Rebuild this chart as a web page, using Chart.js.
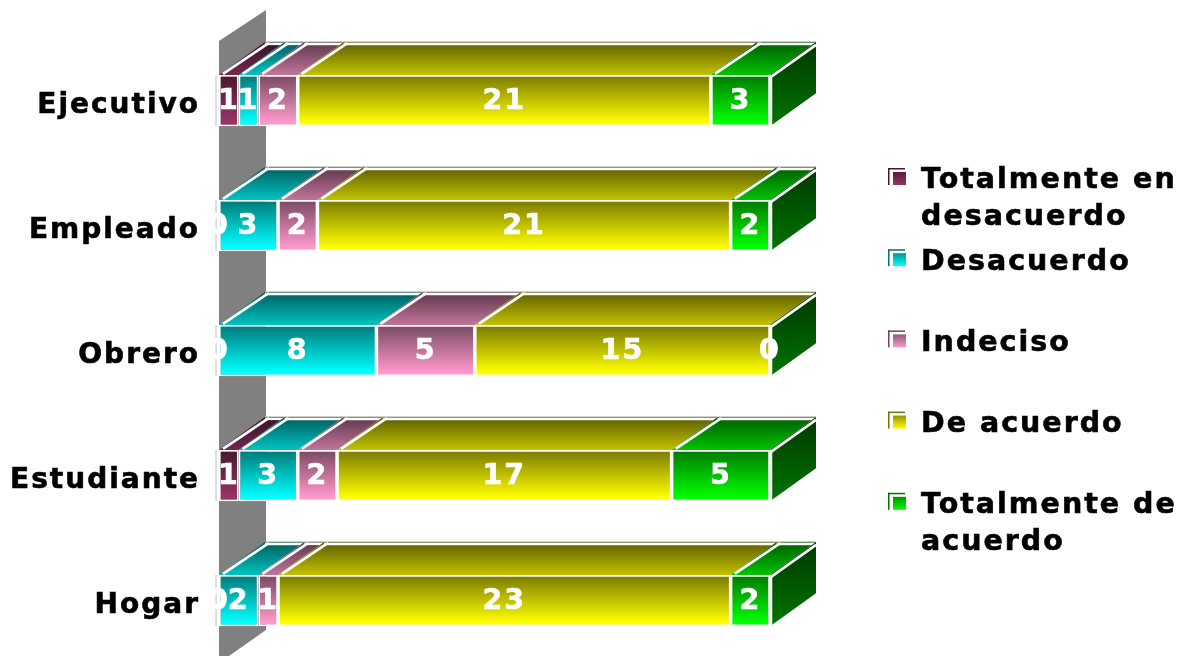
<!DOCTYPE html>
<html>
<head>
<meta charset="utf-8">
<style>
  html, body { margin: 0; padding: 0; background: #fff; overflow: hidden; }
  canvas { display: block; }
</style>
<script src="https://cdn.jsdelivr.net/npm/chart.js@4"></script>
</head>
<body>
<canvas id="myChart" width="1189" height="700"></canvas>
<script>
const categories = ['Ejecutivo', 'Empleado', 'Obrero', 'Estudiante', 'Hogar'];
const totalmenteEnDesacuerdo = [1, 0, 0, 1, 0];
const desacuerdo = [1, 3, 8, 3, 2];
const indeciso = [2, 2, 5, 2, 1];
const deAcuerdo = [21, 21, 15, 17, 23];
const totalmenteDeAcuerdo = [3, 2, 0, 5, 2];
const seriesNames = ['Totalmente en desacuerdo', 'Desacuerdo', 'Indeciso', 'De acuerdo', 'Totalmente de acuerdo'];
const legendLines = [['Totalmente en', 'desacuerdo'], ['Desacuerdo'], ['Indeciso'], ['De acuerdo'], ['Totalmente de', 'acuerdo']];
const seriesValues = [totalmenteEnDesacuerdo, desacuerdo, indeciso, deAcuerdo, totalmenteDeAcuerdo];
const seriesColors = [[153, 51, 102], [0, 255, 255], [255, 153, 204], [255, 255, 0], [0, 255, 0]];

const DEPTH_X = 46;
const DEPTH_Y = 33;
const FONT = 'bold 28.5px "DejaVu Sans"';

function shade(rgb, k) {
    return 'rgb(' + rgb.map(c => Math.round(c * k)).join(',') + ')';
}

function vGradient(ctx, y0, y1, c0, c1) {
    const g = ctx.createLinearGradient(0, y0, 0, y1);
    g.addColorStop(0, c0);
    g.addColorStop(1, c1);
    return g;
}

function polygon(ctx, pts, fill) {
    ctx.beginPath();
    pts.forEach((p, i) => (i ? ctx.lineTo(p[0], p[1]) : ctx.moveTo(p[0], p[1])));
    ctx.closePath();
    ctx.fillStyle = fill;
    ctx.fill();
}

function line(ctx, x0, y0, x1, y1, color, width) {
    ctx.beginPath();
    ctx.moveTo(x0, y0);
    ctx.lineTo(x1, y1);
    ctx.strokeStyle = color;
    ctx.lineWidth = width;
    ctx.stroke();
}

function heavyText(ctx, text, x, y, color) {
    ctx.fillStyle = color;
    ctx.strokeStyle = color;
    ctx.lineWidth = 0.6;
    ctx.fillText(text, x, y);
    ctx.strokeText(text, x, y);
}

// canvas state is reset on resize, so the tracking is applied again before each draw
const tracking = {
    id: 'tracking',
    beforeLayout(chart) { chart.ctx.letterSpacing = '2px'; },
    beforeDraw(chart) { chart.ctx.letterSpacing = '2px'; }
};

// back wall, top faces and the right end of each bar
const extrusion = {
    id: 'extrusion',
    beforeDatasetsDraw(chart) {
        const ctx = chart.ctx;
        const area = chart.chartArea;
        polygon(ctx, [
            [area.left, area.top + 3],
            [area.left + DEPTH_X + 1, area.top + 5 - DEPTH_Y],
            [area.left + DEPTH_X + 1, area.bottom - DEPTH_Y],
            [area.left, area.bottom]
        ], '#808080');

        categories.forEach((name, row) => {
            let x0 = area.left;
            seriesValues.forEach((values, s) => {
                const bar = chart.getDatasetMeta(s).data[row];
                const top = bar.y - bar.height / 2;
                const x1 = bar.x;
                const back = top - DEPTH_Y;
                if (x1 > x0) {
                    polygon(ctx, [
                        [x0, top], [x1, top], [x1 + DEPTH_X, back], [x0 + DEPTH_X, back]
                    ], vGradient(ctx, back, top, shade(seriesColors[s], 0.36), shade(seriesColors[s], 0.76)));
                    line(ctx, x0 + 4, top - 1, x0 + 4 + DEPTH_X, back + 1, '#fff', 2.6);
                    line(ctx, x0 + DEPTH_X, back + 2, x1 + DEPTH_X, back + 2, '#fff', 2.5);
                    line(ctx, x0 + DEPTH_X, back, x1 + DEPTH_X, back, '#b4b4a8', 1);
                }
                x0 = x1;
            });
            // end face belongs to the last series even when its value is 0
            const last = chart.getDatasetMeta(seriesValues.length - 1).data[row];
            const top = last.y - last.height / 2;
            const bottom = last.y + last.height / 2;
            const rgb = seriesColors[seriesValues.length - 1];
            polygon(ctx, [
                [x0, top], [x0 + DEPTH_X, top - DEPTH_Y], [x0 + DEPTH_X, bottom - DEPTH_Y], [x0, bottom]
            ], vGradient(ctx, top - DEPTH_Y, bottom, shade(rgb, 0.22), shade(rgb, 0.46)));
            line(ctx, x0 + 1, top + 2, x0 + DEPTH_X, top - DEPTH_Y + 3, '#fff', 2.6);
            line(ctx, x0 + 1, top, x0 + 1, bottom, '#fff', 2.5);
            // small edge left of the first segment
            line(ctx, area.left - 3, top, area.left - 3, bottom, '#b8c0c0', 1);
        });
    },
    afterDatasetsDraw(chart) {
        const ctx = chart.ctx;
        ctx.save();
        ctx.font = FONT;
        ctx.textAlign = 'center';
        ctx.textBaseline = 'middle';
        seriesValues.forEach((values, s) => {
            chart.getDatasetMeta(s).data.forEach((bar, row) => {
                heavyText(ctx, values[row], (bar.x + bar.base) / 2, bar.y + 1, '#fff');
            });
        });
        ctx.restore();
    }
};

// right-hand key, one entry every 81px with two-line names running downward
const key = {
    id: 'key',
    afterDraw(chart) {
        const ctx = chart.ctx;
        ctx.save();
        ctx.font = FONT;
        ctx.textBaseline = 'middle';
        ctx.textAlign = 'left';
        seriesNames.forEach((name, i) => {
            const y = 178 + i * 81.2;
            const rgb = seriesColors[i];
            ctx.fillStyle = shade(rgb, 0.45);
            ctx.fillRect(888, y - 10, 17, 1.5);
            ctx.fillRect(888, y - 10, 1.5, 17);
            ctx.fillStyle = vGradient(ctx, y - 7, y + 7, shade(rgb, 0.55), shade(rgb, 1));
            ctx.fillRect(893, y - 6, 13, 13);
            legendLines[i].forEach((text, n) => heavyText(ctx, text, 921, y + 3 + n * 37, '#000'));
        });
        ctx.restore();
    }
};

const data1 = {
    labels: categories,
    datasets: seriesValues.map((values, s) => ({
        label: seriesNames[s],
        data: values,
        borderColor: '#fff',
        borderWidth: 1.75,
        borderSkipped: false,
        inflateAmount: 0,
        backgroundColor(context) {
            const mid = context.chart.scales.y ? context.chart.scales.y.getPixelForValue(context.dataIndex) : NaN;
            if (!Number.isFinite(mid)) {
                return shade(seriesColors[s], 1);
            }
            return vGradient(context.chart.ctx, mid - 25, mid + 22, shade(seriesColors[s], 0.48), shade(seriesColors[s], 1));
        }
    }))
};

const config1 = {
    type: 'bar',
    data: data1,
    plugins: [tracking, extrusion, key],
    options: {
        indexAxis: 'y',
        responsive: false,
        animation: false,
        categoryPercentage: 1,
        barPercentage: 0.41,
        layout: {
            padding: { top: 38, bottom: 37, right: 419 }
        },
        plugins: {
            legend: { display: false },
            title: { display: false },
            tooltip: { enabled: false }
        },
        scales: {
            x: {
                display: false,
                stacked: true,
                min: 0,
                max: 28
            },
            y: {
                stacked: true,
                grid: { display: false, drawTicks: false },
                border: { display: false },
                afterFit(scale) { scale.width = 219; },
                ticks: {
                    autoSkip: false,
                    padding: 19,
                    labelOffset: 5,
                    color: '#000',
                    textStrokeColor: '#000',
                    textStrokeWidth: 0.6,
                    font: { family: '"DejaVu Sans"', size: 28, weight: 'bold' }
                }
            }
        }
    }
};

const myChart = new Chart(document.getElementById('myChart').getContext('2d'), config1);
</script>
</body>
</html>
